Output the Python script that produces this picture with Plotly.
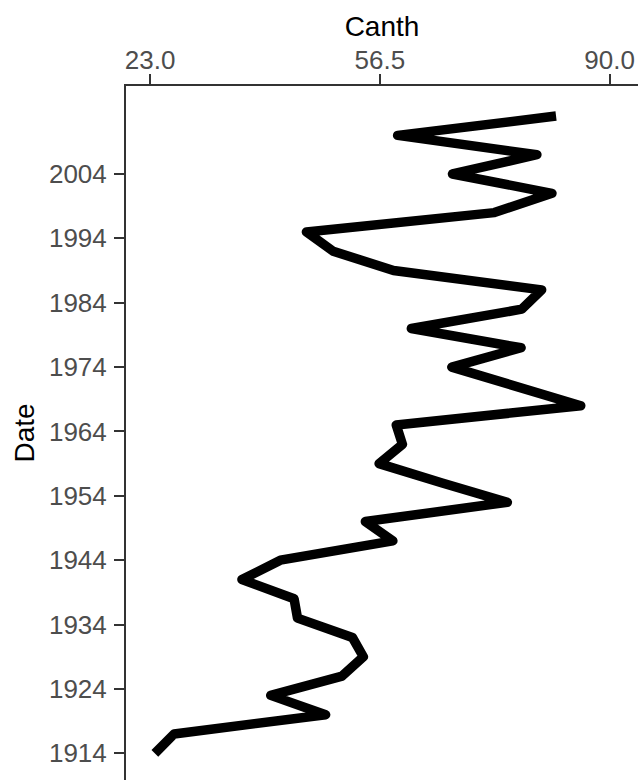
import plotly.graph_objects as go

# Sampling years (every third year) and the Canth values measured at each one
years = [1914, 1917, 1920, 1923, 1926, 1929, 1932, 1935, 1938, 1941,
         1944, 1947, 1950, 1953, 1956, 1959, 1962, 1965, 1968, 1971,
         1974, 1977, 1980, 1983, 1986, 1989, 1992, 1995, 1998, 2001,
         2004, 2007, 2010, 2013]
canth = [23.7, 26.5, 48.6, 40.6, 51.0, 54.1, 52.5, 44.5, 44.0, 36.4,
         42.0, 58.4, 54.4, 75.1, 65.6, 56.4, 59.8, 58.9, 85.8, 76.4,
         67.0, 77.1, 61.1, 77.2, 80.1, 58.5, 49.7, 45.8, 73.2, 81.6,
         67.1, 79.4, 59.1, 82.2]

# Axis ticks
x_tick_vals = [23.0, 56.5, 90.0]
x_tick_text = ["23.0", "56.5", "90.0"]
y_tick_vals = [1914, 1924, 1934, 1944, 1954, 1964, 1974, 1984, 1994, 2004]

FONT = "Liberation Sans, Arial, sans-serif"
AXIS_COLOR = "#333333"
TICK_FONT = dict(family=FONT, size=26, color="#4d4d4d")
TITLE_FONT = dict(family=FONT, size=28, color="#000000")

fig = go.Figure(
    go.Scatter(
        x=canth,
        y=years,
        mode="lines",
        line=dict(color="#000000", width=9.5),
        hoverinfo="skip",
    )
)

fig.update_layout(
    width=638,
    height=780,
    margin=dict(l=126, r=0, t=86, b=0),
    paper_bgcolor="white",
    plot_bgcolor="white",
    showlegend=False,
    font=dict(family=FONT),
)

fig.update_xaxes(
    side="top",
    range=[19.49, 94.15],
    tickvals=x_tick_vals,
    ticktext=x_tick_text,
    ticks="outside",
    ticklen=10,
    tickwidth=1.5,
    tickcolor=AXIS_COLOR,
    tickfont=TICK_FONT,
    ticklabelstandoff=-5,
    showline=True,
    linecolor=AXIS_COLOR,
    linewidth=2,
    showgrid=False,
    zeroline=False,
    title=dict(text="Canth", font=TITLE_FONT, standoff=0),
)

fig.update_yaxes(
    range=[1909.85, 2017.67],
    tickvals=y_tick_vals,
    ticks="outside",
    ticklen=10,
    tickwidth=1.5,
    tickcolor=AXIS_COLOR,
    tickfont=TICK_FONT,
    ticklabelstandoff=2,
    showline=True,
    linecolor=AXIS_COLOR,
    linewidth=2,
    showgrid=False,
    zeroline=False,
    title=dict(text="Date", font=TITLE_FONT, standoff=6),
)

# Rounded corners where the thick line changes direction
round_joins = (
    "document.querySelectorAll('.scatterlayer path.js-line').forEach("
    "function(p){p.style.strokeLinejoin='round';});"
)

fig.write_html("out.html", post_script=round_joins)
